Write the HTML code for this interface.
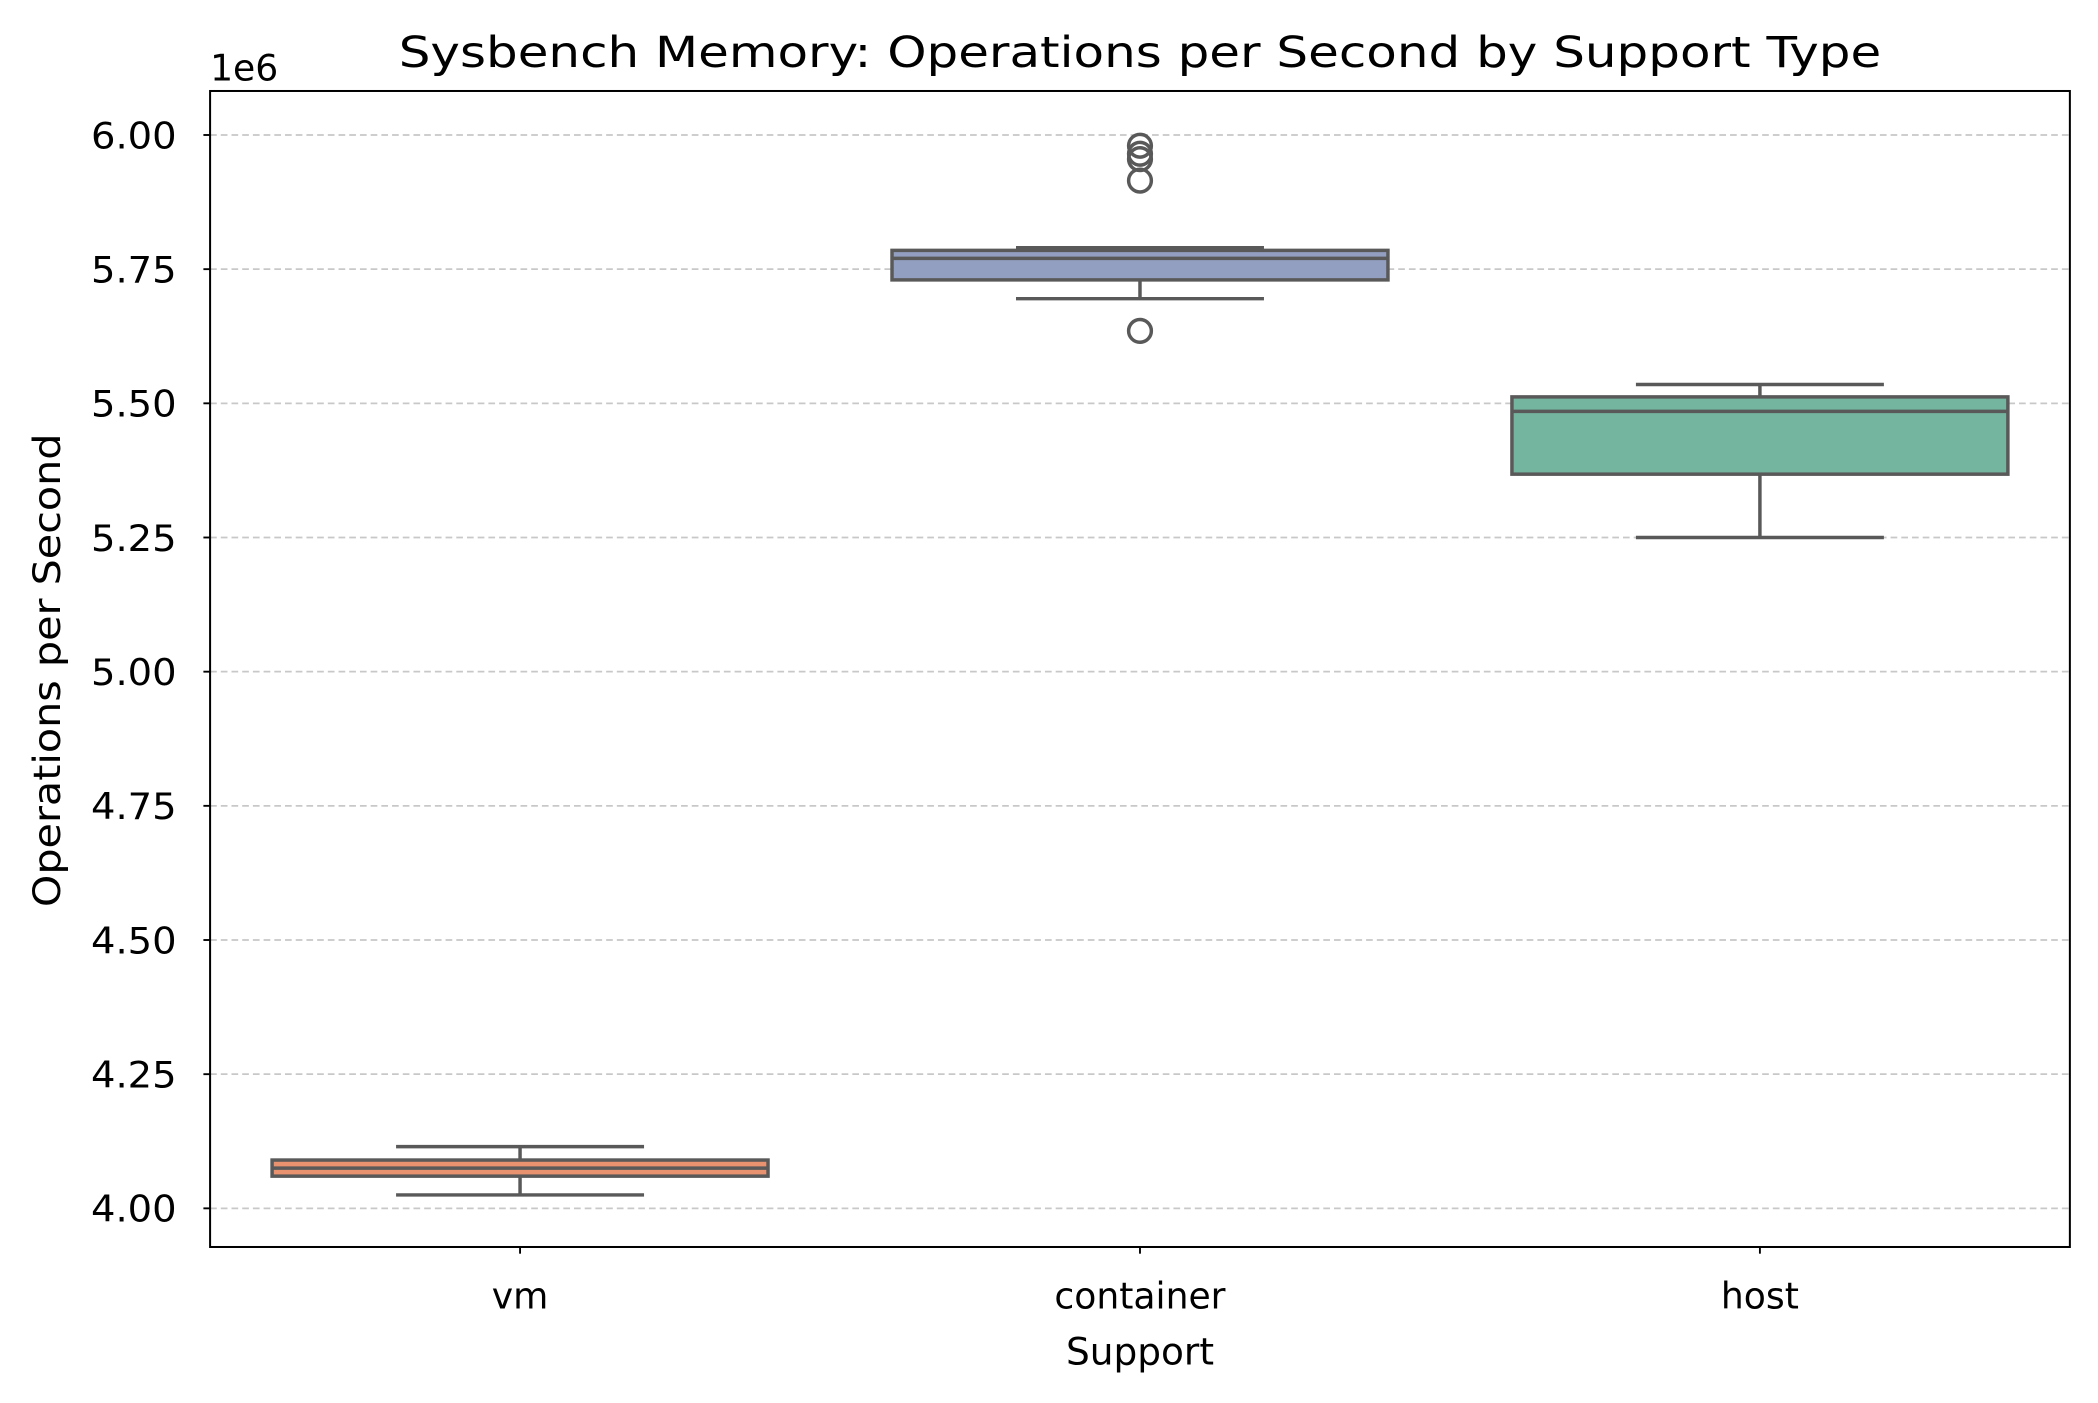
<!DOCTYPE html>
<html><head><meta charset="utf-8"><style>
html,body{margin:0;padding:0;background:#fff;}
svg{display:block;font-family:"DejaVu Sans","Liberation Sans",sans-serif;}
</style></head><body>
<svg id="chart" width="2098" height="1403" viewBox="0 0 1568 1048.6" xmlns="http://www.w3.org/2000/svg">
<rect width="1568" height="1048.6" fill="#fff"/>
<g id="grid"></g>
<g id="boxes"></g>
<rect x="157" y="68" width="1390" height="864" fill="none" stroke="#000" stroke-width="1.5"/>
<g id="yticks"></g>
<g id="xticks"></g>
<text x="852" y="50" font-size="32" text-anchor="middle" textLength="1108" lengthAdjust="spacingAndGlyphs">Sysbench Memory: Operations per Second by Support Type</text>
<text x="157" y="60" font-size="27">1e6</text>
<text x="852" y="1020" font-size="28" text-anchor="middle">Support</text>
<text transform="translate(45,501) rotate(-90)" font-size="28" text-anchor="middle" textLength="354" lengthAdjust="spacingAndGlyphs">Operations per Second</text>
</svg>
<script>
const categories = ["vm", "container", "host"];
const q1 = [4.060, 5.730, 5.368];
const medians = [4.075, 5.770, 5.485];
const q3 = [4.090, 5.785, 5.512];
const whiskerLow = [4.025, 5.695, 5.250];
const whiskerHigh = [4.115, 5.790, 5.535];
const outliers = [[], [5.635, 5.915, 5.955, 5.965, 5.980], []];
const colors = ["#e8926f", "#929fc1", "#73b59f"];
const yTicks = [4.00, 4.25, 4.50, 4.75, 5.00, 5.25, 5.50, 5.75, 6.00];

const NS = "http://www.w3.org/2000/svg";
const L = 157, R = 1547, T = 68, B = 932;
const yMin = 3.928, yMax = 6.082;
function y(v){ return B - (v - yMin) / (yMax - yMin) * (B - T); }
const step = (R - L) / categories.length;
function x(i){ return L + step * (i + 0.5); }
function mk(tag, attrs, parent){
  const e = document.createElementNS(NS, tag);
  for (const k in attrs) e.setAttribute(k, attrs[k]);
  parent.appendChild(e); return e;
}
const grid = document.getElementById('grid');
const yt = document.getElementById('yticks');
yTicks.forEach(t => {
  const g = mk('line', {x1: L, x2: R, y1: y(t), y2: y(t), stroke: '#c8c8c8', 'stroke-width': 1.3, 'stroke-dasharray': '5,3'}, grid);
  
  
  mk('line', {x1: L - 5, x2: L, y1: y(t), y2: y(t), stroke: '#000', 'stroke-width': 1.4}, yt);
  const tx = mk('text', {x: L - 25, y: y(t) + 10, 'font-size': 27, 'text-anchor': 'end', textLength: 64, lengthAdjust: 'spacingAndGlyphs'}, yt);
  tx.textContent = t.toFixed(2);
  
  
});
const xt = document.getElementById('xticks');
const bx = document.getElementById('boxes');
const bw = step * 0.8, cw = bw / 2;
categories.forEach((c, i) => {
  const cx = x(i);
  mk('line', {x1: cx, x2: cx, y1: B, y2: B + 5, stroke: '#000', 'stroke-width': 1.4}, xt);
  const tx = mk('text', {x: cx, y: B + 46, 'font-size': 27, 'text-anchor': 'middle'}, xt);
  tx.textContent = c;
  
  
  const g = mk('g', {stroke: '#595959', 'stroke-width': 2.6, fill: 'none'}, bx);
  
  
  mk('line', {x1: cx, x2: cx, y1: y(q3[i]), y2: y(whiskerHigh[i])}, g);
  mk('line', {x1: cx, x2: cx, y1: y(q1[i]), y2: y(whiskerLow[i])}, g);
  mk('line', {x1: cx - cw/2, x2: cx + cw/2, y1: y(whiskerHigh[i]), y2: y(whiskerHigh[i])}, g);
  mk('line', {x1: cx - cw/2, x2: cx + cw/2, y1: y(whiskerLow[i]), y2: y(whiskerLow[i])}, g);
  mk('rect', {x: cx - bw/2, y: y(q3[i]), width: bw, height: y(q1[i]) - y(q3[i]), fill: colors[i]}, g);
  mk('line', {x1: cx - bw/2, x2: cx + bw/2, y1: y(medians[i]), y2: y(medians[i])}, g);
  outliers[i].forEach(o => {
    const p = mk('circle', {cx: cx, cy: y(o), r: 8.5}, g);
    
    
  });
});
</script>
</body></html>
